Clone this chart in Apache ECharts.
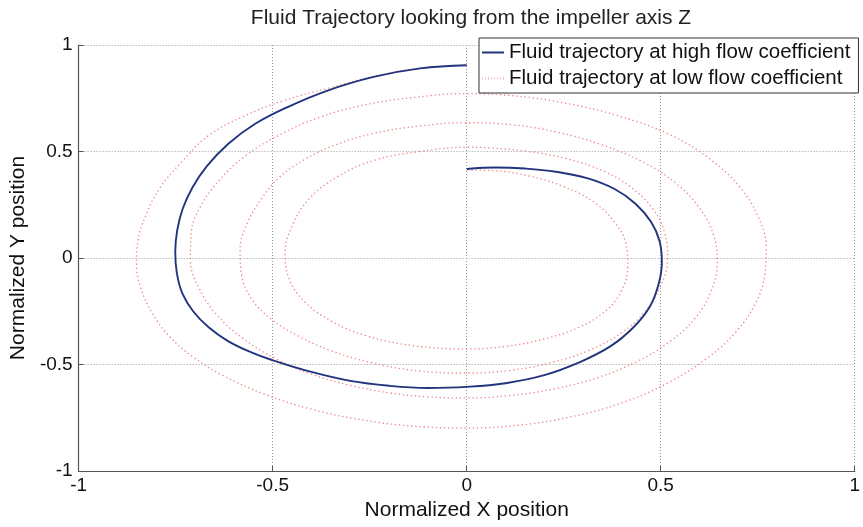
<!DOCTYPE html>
<html>
<head>
<meta charset="utf-8">
<script src="https://cdn.jsdelivr.net/npm/echarts@6/dist/echarts.min.js"></script>
<style>
html,body{margin:0;padding:0;background:#fff;}
#chart{width:863px;height:527px;}
</style>
</head>
<body>
<div id="chart"></div>
<script>
// ---- data ----
const titleText = 'Fluid Trajectory looking from the impeller axis Z';
const xName = 'Normalized X position';
const yName = 'Normalized Y position';
const seriesNames = ['Fluid trajectory at high flow coefficient', 'Fluid trajectory at low flow coefficient'];
const tickValues = [-1, -0.5, 0, 0.5, 1];
const tickLabels = ['-1', '-0.5', '0', '0.5', '1'];

// high flow coefficient: spiral (about one turn)
const highFlowX = [0, -0.12, -0.24, -0.36, -0.46, -0.545, -0.615, -0.67, -0.707, -0.732, -0.746, -0.751, -0.747, -0.733, -0.705, -0.665, -0.615, -0.555, -0.5, -0.4, -0.3, -0.2, -0.1, 0, 0.1, 0.2, 0.29, 0.37, 0.43, 0.473, 0.495, 0.503, 0.497, 0.475, 0.435, 0.38, 0.31, 0.23, 0.15, 0.075, 0];
const highFlowY = [0.905, 0.89, 0.85, 0.785, 0.71, 0.63, 0.535, 0.43, 0.33, 0.23, 0.13, 0.03, -0.07, -0.165, -0.25, -0.325, -0.39, -0.443, -0.48, -0.535, -0.577, -0.6, -0.61, -0.605, -0.588, -0.55, -0.49, -0.415, -0.325, -0.225, -0.12, -0.02, 0.08, 0.17, 0.255, 0.325, 0.375, 0.405, 0.42, 0.425, 0.418];

// low flow coefficient: spiral (about four turns)
const lowFlowX = [
  0, -0.12, -0.24, -0.36, -0.47, -0.575, -0.665, -0.735, -0.79, -0.827, -0.847, -0.851, -0.84, -0.81, -0.765, -0.705, -0.63, -0.52, -0.4, -0.27, -0.135, 0, 0.135, 0.27, 0.4, 0.52, 0.62, 0.695, 0.745, 0.768, 0.772, 0.752, 0.705, 0.63, 0.525, 0.395, 0.26, 0.13, 0,
  -0.13, -0.26, -0.38, -0.48, -0.57, -0.64, -0.688, -0.71, -0.712, -0.69, -0.645, -0.575, -0.49, -0.4, -0.3, -0.2, -0.1, 0, 0.115, 0.23, 0.34, 0.44, 0.525, 0.59, 0.63, 0.646, 0.636, 0.6, 0.54, 0.455, 0.35, 0.235, 0.12, 0,
  -0.12, -0.24, -0.34, -0.42, -0.485, -0.528, -0.565, -0.584, -0.58, -0.555, -0.505, -0.435, -0.35, -0.25, -0.125, 0, 0.115, 0.22, 0.32, 0.4, 0.46, 0.5, 0.518, 0.51, 0.48, 0.425, 0.35, 0.26, 0.16, 0.06, 0,
  -0.12, -0.236, -0.33, -0.405, -0.45, -0.468, -0.457, -0.418, -0.35, -0.26, -0.135, 0, 0.1, 0.2, 0.29, 0.36, 0.4, 0.415, 0.41, 0.38, 0.33, 0.25, 0.16, 0.07, 0
];
const lowFlowY = [
  0.905, 0.89, 0.852, 0.795, 0.74, 0.665, 0.575, 0.45, 0.33, 0.2, 0.08, -0.03, -0.14, -0.26, -0.37, -0.465, -0.55, -0.64, -0.71, -0.76, -0.79, -0.798, -0.785, -0.745, -0.68, -0.585, -0.47, -0.345, -0.21, -0.08, 0.05, 0.19, 0.33, 0.46, 0.578, 0.665, 0.725, 0.76, 0.772,
  0.755, 0.72, 0.66, 0.58, 0.48, 0.36, 0.235, 0.115, -0.01, -0.14, -0.265, -0.38, -0.475, -0.545, -0.598, -0.633, -0.652, -0.657, -0.645, -0.613, -0.56, -0.485, -0.39, -0.28, -0.155, -0.02, 0.11, 0.235, 0.35, 0.45, 0.53, 0.59, 0.625, 0.635,
  0.62, 0.585, 0.53, 0.46, 0.375, 0.28, 0.165, 0.04, -0.08, -0.19, -0.285, -0.365, -0.435, -0.49, -0.53, -0.54, -0.527, -0.49, -0.43, -0.35, -0.25, -0.13, 0, 0.12, 0.23, 0.33, 0.41, 0.465, 0.5, 0.517, 0.52,
  0.5, 0.46, 0.385, 0.28, 0.15, 0.02, -0.1, -0.205, -0.295, -0.365, -0.412, -0.427, -0.415, -0.38, -0.325, -0.245, -0.15, -0.04, 0.07, 0.17, 0.26, 0.335, 0.385, 0.41, 0.413
];

const highFlow = highFlowX.map((x, i) => [x, highFlowY[i]]);
const lowFlow = lowFlowX.map((x, i) => [x, lowFlowY[i]]);

const fontFam = '"Liberation Sans", Arial, Helvetica, sans-serif';
const labelFmt = v => { const i = tickValues.indexOf(v); return i >= 0 ? tickLabels[i] : ''; };

function axisCommon(name, nameGap, rotate, margin) {
  return {
    type: 'value', min: -1, max: 1, interval: 0.5,
    name: name, nameLocation: 'middle', nameGap: nameGap, nameRotate: rotate,
    nameTextStyle: { fontFamily: fontFam, fontSize: 21, color: '#111' },
    axisLine: { show: true, onZero: false, lineStyle: { color: '#555', width: 1.2 } },
    axisTick: { show: true, inside: true, length: 5, lineStyle: { color: '#555' } },
    axisLabel: { formatter: labelFmt, fontFamily: fontFam, fontSize: 19, color: '#111', margin: margin },
    splitLine: { show: true, lineStyle: { color: '#999', width: 1, type: [1, 2] } }
  };
}

const dottedIcon = 'path://M0,0h1v1h-1zM3,0h1v1h-1zM6,0h1v1h-1zM9,0h1v1h-1zM12,0h1v1h-1zM15,0h1v1h-1zM18,0h1v1h-1zM21,0h1v1h-1z';

const chart = echarts.init(document.getElementById('chart'), null, { renderer: 'canvas' });
chart.setOption({
  backgroundColor: '#fff',
  animation: false,
  title: {
    text: titleText, left: 466, top: 3, textAlign: 'center',
    textStyle: { fontFamily: fontFam, fontSize: 21, fontWeight: 'normal', color: '#222' }
  },
  grid: { left: 76, right: 6, top: 45, bottom: 56, containLabel: false },
  xAxis: axisCommon(xName, 28, 0, 5),
  yAxis: axisCommon(yName, 46, 90, 6),
  legend: {
    orient: 'vertical', left: 479, top: 38,
    data: [
      { name: seriesNames[0], icon: 'path://M0,0H22V2H0Z' },
      { name: seriesNames[1], icon: dottedIcon, itemStyle: { opacity: 0.4 } }
    ],
    itemWidth: 22, itemHeight: 2, itemGap: 5,
    symbolKeepAspect: false,
    padding: [4, 8, 4, 3],
    backgroundColor: '#fff', borderColor: '#333', borderWidth: 1,
    textStyle: { fontFamily: fontFam, fontSize: 20.5, color: '#111' }
  },
  series: [
    {
      name: seriesNames[0], type: 'line', data: highFlow,
      showSymbol: false, symbol: 'none', smooth: 0.4,
      lineStyle: { color: '#22347d', width: 1.9 }, itemStyle: { color: '#22347d' }, z: 3
    },
    {
      name: seriesNames[1], type: 'line', data: lowFlow,
      showSymbol: false, symbol: 'none', smooth: 0.4,
      lineStyle: { color: '#e85a5a', width: 1.3, type: [1.3, 2.8], opacity: 0.75 }, itemStyle: { color: '#e85a5a' }, z: 2
    }
  ]
});
</script>
</body>
</html>
